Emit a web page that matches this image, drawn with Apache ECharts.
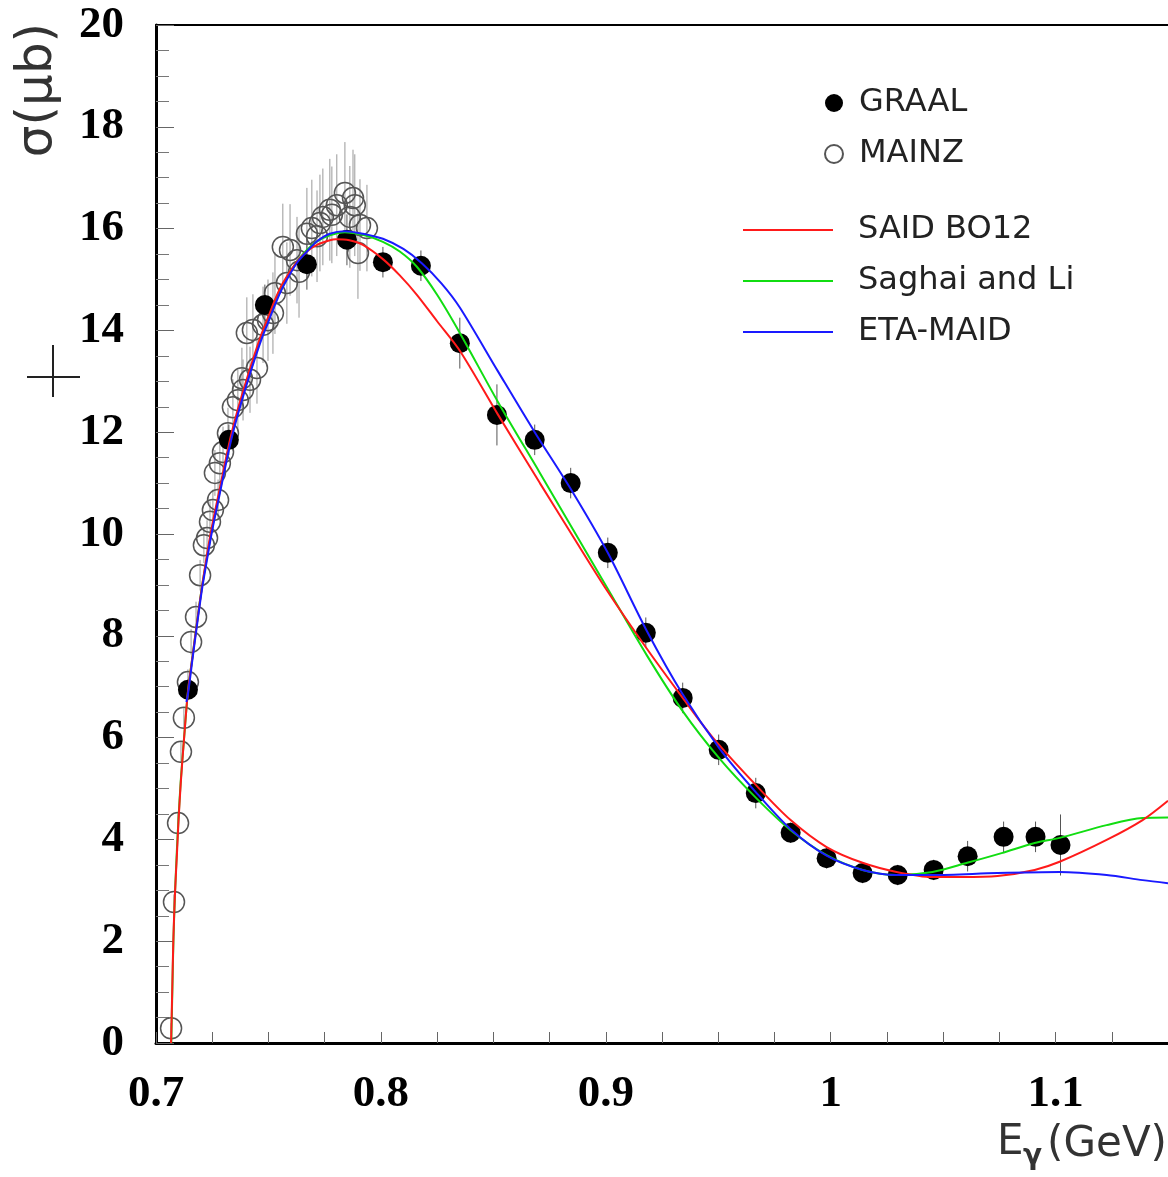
<!DOCTYPE html>
<html><head><meta charset="utf-8">
<script src="https://cdn.jsdelivr.net/npm/echarts@6/dist/echarts.min.js"></script>
<style>html,body{margin:0;padding:0;background:#fff}#c{width:1168px;height:1177px}</style>
</head><body><div id="c"></div>
<script>
// ---- data ----
const xLabelValues = [0.7, 0.8, 0.9, 1.0, 1.1];
const xTickLabels = ['0.7', '0.8', '0.9', '1', '1.1'];
const xTickValues = [0.7,0.725,0.75,0.775,0.8,0.825,0.85,0.875,0.9,0.925,0.95,0.975,1.0,1.025,1.05,1.075,1.1,1.125,1.15];
const yTickLabels = ['0', '2', '4', '6', '8', '10', '12', '14', '16', '18', '20'];

const graalE = [0.7142,0.7324,0.7484,0.7671,0.7849,0.8009,0.8178,0.8351,0.8516,0.8684,0.8844,0.9009,0.9178,0.9342,0.9502,0.9667,0.9822,0.9982,1.0142,1.0298,1.0458,1.0609,1.0769,1.0911,1.1022];
const graalS = [6.94,11.85,14.50,15.30,15.78,15.34,15.27,13.75,12.34,11.85,11.00,9.63,8.06,6.78,5.76,4.91,4.13,3.63,3.34,3.30,3.40,3.67,4.05,4.05,3.89];
const graalErr = [0.2,0.3,0.4,0.5,0.5,0.3,0.3,0.5,0.6,0.3,0.3,0.3,0.3,0.3,0.3,0.3,0.2,0.2,0.2,0.2,0.2,0.3,0.3,0.3,0.6];

const mainzE = [0.7067,0.7080,0.7098,0.7111,0.7124,0.7142,0.7156,0.7178,0.7196,0.7213,0.7227,0.7240,0.7253,0.7262,0.7276,0.7284,0.7298,0.7320,0.7342,0.7364,0.7382,0.7387,0.7404,0.7418,0.7431,0.7449,0.7476,0.7498,0.7520,0.7529,0.7564,0.7582,0.7596,0.7627,0.7636,0.7671,0.7693,0.7716,0.7729,0.7742,0.7773,0.7782,0.7804,0.7840,0.7862,0.7876,0.7884,0.7898,0.7907,0.7938];
const mainzS = [0.29,2.77,4.32,5.72,6.39,7.09,7.88,8.37,9.19,9.78,9.92,10.24,10.47,11.20,10.67,11.39,11.61,11.98,12.49,12.63,13.06,12.83,13.95,13.03,14.01,13.26,14.11,14.20,14.34,14.73,15.64,14.93,15.58,15.38,15.15,15.90,16.01,15.85,16.11,16.23,16.37,16.27,16.46,16.70,16.23,16.60,16.46,15.52,16.07,16.01];
const mainzErr = [0.1,0.15,0.2,0.2,0.2,0.25,0.25,0.3,0.3,0.35,0.35,0.4,0.4,0.45,0.4,0.45,0.5,0.5,0.55,0.6,0.6,0.6,0.7,0.65,0.7,0.7,0.75,0.8,0.8,0.8,0.85,0.8,0.9,0.85,0.9,0.9,0.95,0.9,0.95,0.95,1.0,0.95,1.0,1.0,1.0,0.95,1.0,0.9,0.9,0.85];

const saidE = [0.7067,0.7072,0.7077,0.7084,0.7093,0.7100,0.7110,0.7125,0.7142,0.7164,0.7182,0.7204,0.7227,0.7249,0.7284,0.7329,0.7364,0.7404,0.7440,0.7471,0.7498,0.7529,0.7564,0.7627,0.7671,0.7716,0.7773,0.7800,0.7860,0.7920,0.8009,0.8084,0.8160,0.8250,0.8351,0.8520,0.8707,0.8853,0.9004,0.9182,0.9342,0.9476,0.9667,0.9822,0.9982,1.0142,1.0293,1.0453,1.0582,1.0742,1.0907,1.1018,1.1227,1.1387,1.1500];
const saidS = [0,1.0,2.0,2.9,3.7,4.35,5.1,6.0,6.9,7.65,8.25,8.95,9.6,10.15,10.9,11.85,12.45,13.05,13.55,13.95,14.25,14.6,14.93,15.35,15.55,15.68,15.77,15.79,15.77,15.68,15.4,15.08,14.7,14.18,13.6,12.35,11.0,9.96,8.9,7.75,6.78,6.0,5.07,4.38,3.85,3.54,3.36,3.26,3.26,3.28,3.40,3.56,3.99,4.38,4.76];

const saghaiE = [0.7068,0.7073,0.7078,0.7085,0.7093,0.7100,0.7110,0.7125,0.7142,0.7164,0.7182,0.7204,0.7227,0.7249,0.7284,0.7329,0.7364,0.7404,0.7440,0.7471,0.7498,0.7529,0.7564,0.7627,0.7671,0.7716,0.7773,0.7840,0.7920,0.8009,0.8084,0.8160,0.8250,0.8351,0.8520,0.8707,0.8853,0.9004,0.9182,0.9342,0.9507,0.9667,0.9822,0.9982,1.0142,1.0293,1.0453,1.0607,1.0760,1.0907,1.1018,1.1227,1.1387,1.1500];
const saghaiS = [0,1.1,2.1,3.0,3.8,4.4,5.15,6.0,6.9,7.65,8.25,8.95,9.55,10.1,10.85,11.8,12.4,13.0,13.5,13.9,14.22,14.57,14.9,15.35,15.58,15.75,15.87,15.93,15.88,15.74,15.55,15.25,14.7,13.95,12.6,11.2,10.1,8.96,7.62,6.52,5.58,4.82,4.18,3.69,3.40,3.30,3.36,3.54,3.73,3.93,4.03,4.28,4.42,4.43];

const etaMaidE = [0.7135,0.7142,0.7164,0.7182,0.7204,0.7227,0.7249,0.7284,0.7329,0.7364,0.7404,0.7440,0.7471,0.7498,0.7529,0.7564,0.7627,0.7671,0.7716,0.7773,0.7840,0.7920,0.8009,0.8100,0.8182,0.8270,0.8351,0.8520,0.8684,0.8849,0.9009,0.9182,0.9342,0.9507,0.9667,0.9822,0.9982,1.0142,1.0293,1.0453,1.0742,1.1018,1.1227,1.1387,1.1500];
const etaMaidS = [6.7,6.85,7.6,8.2,8.9,9.5,10.05,10.8,11.75,12.35,12.95,13.45,13.85,14.15,14.5,14.85,15.33,15.55,15.75,15.9,15.95,15.9,15.8,15.6,15.32,14.92,14.45,13.2,12.0,10.85,9.63,8.1,6.85,5.78,4.93,4.2,3.68,3.40,3.30,3.30,3.34,3.36,3.30,3.20,3.14];

// ---- build ----
const zip = (a, b) => a.map((v, i) => [v, b[i]]);
const errData = (e, s, d) => e.map((v, i) => [v, s[i] - d[i], s[i] + d[i]]);

function errRender(color) {
  return function (params, api) {
    const p1 = api.coord([api.value(0), api.value(1)]);
    const p2 = api.coord([api.value(0), api.value(2)]);
    return { type: 'line', shape: { x1: p1[0], y1: p1[1], x2: p2[0], y2: p2[1] },
             style: { stroke: color, lineWidth: 1 } };
  };
}

const serifBold = { fontFamily: 'Liberation Serif', fontWeight: 'bold', fontSize: 45, color: '#000' };
const legendText = { fontFamily: 'DejaVu Sans', fontSize: 32, color: '#222', lineHeight: 32 };

const chart = echarts.init(document.getElementById('c'), null, { renderer: 'canvas' });
chart.setOption({
  animation: false,
  backgroundColor: '#fff',
  grid: { left: 156, top: 25, width: 1012, height: 1018, show: false, containLabel: false },
  xAxis: [{
    type: 'value', min: 0.7, max: 1.15, interval: 0.1, position: 'bottom',
    axisLine: { show: true, onZero: false, lineStyle: { color: '#000', width: 3 } },
    axisTick: { show: true, inside: true, length: 11, customValues: xTickValues, lineStyle: { color: '#666', width: 1 } },
    minorTick: { show: false },
    splitLine: { show: false },
    axisLabel: Object.assign({ margin: 29, customValues: xLabelValues, formatter: v => {
      const k = xLabelValues.findIndex(t => Math.abs(t - v) < 1e-6);
      return k >= 0 ? xTickLabels[k] : '';
    } }, serifBold)
  }, {
    type: 'value', min: 0.7, max: 1.15, position: 'top',
    axisLine: { show: true, onZero: false, lineStyle: { color: '#000', width: 2 } },
    axisTick: { show: false }, axisLabel: { show: false }, splitLine: { show: false }
  }],
  yAxis: {
    type: 'value', min: 0, max: 20, interval: 2,
    axisLine: { show: true, onZero: false, lineStyle: { color: '#000', width: 3 } },
    axisTick: { show: true, inside: true, length: 18, lineStyle: { color: '#666', width: 1 } },
    minorTick: { show: true, splitNumber: 4, length: 13, lineStyle: { color: '#777', width: 1 } },
    splitLine: { show: false },
    axisLabel: Object.assign({ margin: 32, formatter: v => yTickLabels[Math.round(v / 2)] }, serifBold)
  },
  legend: [
    { data: ['GRAAL', 'MAINZ'], orient: 'vertical', left: 824, top: 87, padding: 0,
      itemWidth: 18, itemHeight: 18, itemGap: 19, selectedMode: false,
      textStyle: Object.assign({ padding: [0, 0, 0, 11] }, legendText) },
    { data: ['SAID BO12', 'Saghai and Li', 'ETA-MAID'], orient: 'vertical', left: 743, top: 214, padding: 0,
      icon: 'rect', itemWidth: 90, itemHeight: 2, itemGap: 19, selectedMode: false,
      textStyle: Object.assign({ padding: [0, 0, 0, 20] }, legendText) }
  ],
  graphic: [
    { type: 'text', x: 38, y: 90, rotation: Math.PI / 2,
      style: { text: 'σ(μb)', font: '50px "DejaVu Sans"', fill: '#333', textAlign: 'center', textVerticalAlign: 'middle' } },
    { type: 'line', shape: { x1: 27, y1: 377, x2: 80, y2: 377 }, style: { stroke: '#222', lineWidth: 2 } },
    { type: 'line', shape: { x1: 53, y1: 345, x2: 53, y2: 397 }, style: { stroke: '#222', lineWidth: 2 } },
    { type: 'text', x: 997, y: 1143,
      style: { text: 'E', font: '42px "DejaVu Sans"', fill: '#333', textAlign: 'left', textVerticalAlign: 'middle' } },
    { type: 'text', x: 1023, y: 1157,
      style: { text: 'γ', font: 'bold 28px "DejaVu Sans"', fill: '#333', textAlign: 'left', textVerticalAlign: 'middle' } },
    { type: 'text', x: 1167, y: 1145,
      style: { text: '(GeV)', font: '42px "DejaVu Sans"', fill: '#333', textAlign: 'right', textVerticalAlign: 'middle' } }
  ],
  series: [
    { type: 'custom', name: 'MAINZ err', silent: true, renderItem: errRender('#999'),
      encode: { x: 0, y: [1, 2] }, data: errData(mainzE, mainzS, mainzErr) },
    { type: 'scatter', name: 'MAINZ', symbol: 'circle', symbolSize: 21,
      itemStyle: { color: 'rgba(255,255,255,0)', borderColor: '#555', borderWidth: 1.5, opacity: 1 },
      data: zip(mainzE, mainzS) },
    { type: 'custom', name: 'GRAAL err', silent: true, renderItem: errRender('#555'),
      encode: { x: 0, y: [1, 2] }, data: errData(graalE, graalS, graalErr) },
    { type: 'scatter', name: 'GRAAL', symbol: 'circle', symbolSize: 20,
      itemStyle: { color: '#000', opacity: 1 }, data: zip(graalE, graalS) },
    { type: 'line', name: 'Saghai and Li', symbol: 'none', showSymbol: false, smooth: 0.3,
      lineStyle: { color: '#11dd11', width: 2 }, itemStyle: { color: '#11dd11' }, data: zip(saghaiE, saghaiS) },
    { type: 'line', name: 'SAID BO12', symbol: 'none', showSymbol: false, smooth: 0.3,
      lineStyle: { color: '#ff1a1a', width: 2 }, itemStyle: { color: '#ff1a1a' }, data: zip(saidE, saidS) },
    { type: 'line', name: 'ETA-MAID', symbol: 'none', showSymbol: false, smooth: 0.3,
      lineStyle: { color: '#1a1aff', width: 2 }, itemStyle: { color: '#1a1aff' }, data: zip(etaMaidE, etaMaidS) }
  ]
});
</script>
</body></html>
